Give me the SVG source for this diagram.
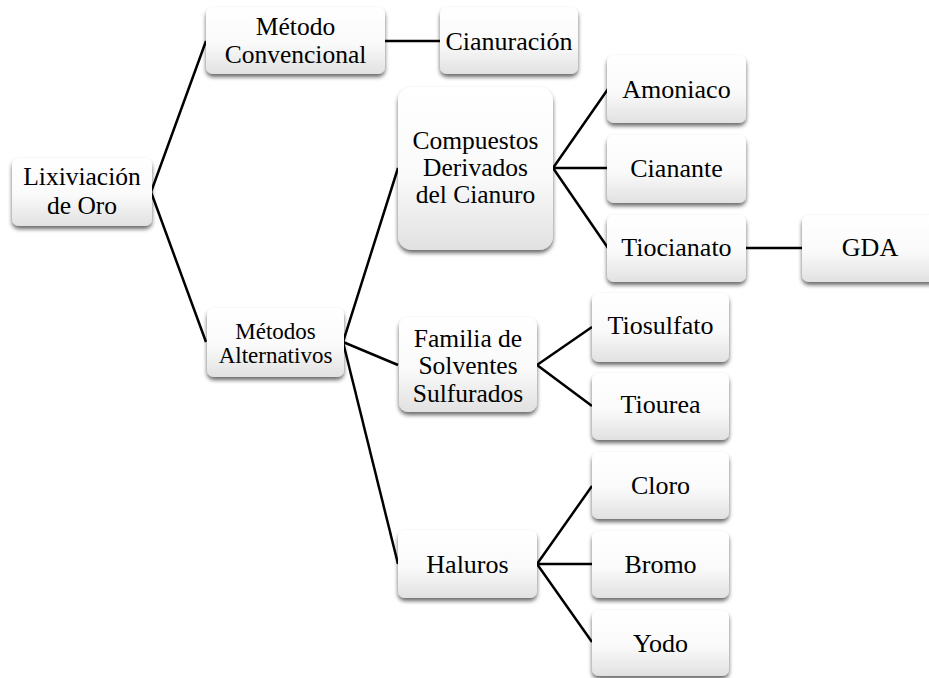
<svg xmlns="http://www.w3.org/2000/svg" width="929" height="678" viewBox="0 0 929 678">
  <style>
    .box { fill: url(#boxFill); filter: url(#shadow); }
    .lbl { font-family: "Liberation Serif", "DejaVu Serif", "Noto Serif", serif; font-size: 25.5px; fill: #000; text-anchor: middle; }
    .one { font-size: 26px; }
    .sm { font-size: 23px; }
    .link { stroke: #000; stroke-width: 2.5; fill: none; stroke-linejoin: miter; }
  </style>
  <defs>
    <linearGradient id="boxFill" x1="0" y1="0" x2="0" y2="1">
      <stop offset="0" stop-color="#ffffff"/>
      <stop offset="0.55" stop-color="#fafafa"/>
      <stop offset="1" stop-color="#e1e1e1"/>
    </linearGradient>
    <filter id="shadow" x="-10%" y="-10%" width="120%" height="130%">
      <feGaussianBlur in="SourceAlpha" stdDeviation="2"/>
      <feOffset dx="0" dy="3" result="b"/>
      <feComponentTransfer><feFuncA type="linear" slope="0.6"/></feComponentTransfer>
      <feMerge><feMergeNode/><feMergeNode in="SourceGraphic"/></feMerge>
    </filter>
  </defs>

  <rect width="929" height="678" fill="#ffffff"/>

  <!-- connectors -->
  <g id="connectors">
    <polyline class="link" points="206,41 151,192 206,342"/>
    <line class="link" x1="385" y1="41" x2="440" y2="41"/>
    <polyline class="link" points="398,168 343,342 398,365"/>
    <line class="link" x1="343" y1="342" x2="398" y2="564"/>
    <polyline class="link" points="608,89 553,168 608,248"/>
    <line class="link" x1="553" y1="168" x2="608" y2="168"/>
    <line class="link" x1="745" y1="248" x2="802" y2="248"/>
    <polyline class="link" points="592,327 537,365 592,406"/>
    <polyline class="link" points="592,486 537,564 592,642"/>
    <line class="link" x1="537" y1="564" x2="592" y2="564"/>
  </g>

  <g id="lixiviacion">
    <rect class="box" x="12" y="158" width="140" height="68" rx="7"/>
    <text class="lbl" x="82" y="185">Lixiviación</text>
    <text class="lbl" x="82" y="214">de Oro</text>
  </g>

  <g id="metodo-convencional">
    <rect class="box" x="206" y="7" width="179" height="67" rx="7"/>
    <text class="lbl" x="295.5" y="35">Método</text>
    <text class="lbl" x="295.5" y="63">Convencional</text>
  </g>

  <g id="cianuracion">
    <rect class="box" x="440" y="7" width="138" height="67" rx="7"/>
    <text class="lbl one" x="509" y="50">Cianuración</text>
  </g>

  <g id="metodos-alternativos">
    <rect class="box" x="207" y="308" width="137" height="69" rx="7"/>
    <text class="lbl sm" x="275.5" y="339">Métodos</text>
    <text class="lbl sm" x="275.5" y="363">Alternativos</text>
  </g>

  <g id="compuestos">
    <rect class="box" x="398" y="87" width="155" height="163" rx="14"/>
    <text class="lbl" x="475.5" y="149">Compuestos</text>
    <text class="lbl" x="475.5" y="176">Derivados</text>
    <text class="lbl" x="475.5" y="203">del Cianuro</text>
  </g>

  <g id="amoniaco">
    <rect class="box" x="607" y="55" width="139" height="68" rx="7"/>
    <text class="lbl one" x="676.5" y="98">Amoniaco</text>
  </g>

  <g id="cianante">
    <rect class="box" x="607" y="135" width="139" height="68" rx="7"/>
    <text class="lbl one" x="676.5" y="177">Cianante</text>
  </g>

  <g id="tiocianato">
    <rect class="box" x="607" y="215" width="139" height="67" rx="7"/>
    <text class="lbl one" x="676.5" y="256">Tiocianato</text>
  </g>

  <g id="gda">
    <rect class="box" x="802" y="215" width="137" height="67" rx="7"/>
    <text class="lbl one" x="870" y="256">GDA</text>
  </g>

  <g id="familia">
    <rect class="box" x="399" y="317" width="138" height="95" rx="9"/>
    <text class="lbl" x="468" y="347">Familia de</text>
    <text class="lbl" x="468" y="374">Solventes</text>
    <text class="lbl" x="468" y="402">Sulfurados</text>
  </g>

  <g id="tiosulfato">
    <rect class="box" x="592" y="293" width="137" height="69" rx="7"/>
    <text class="lbl one" x="660.5" y="334">Tiosulfato</text>
  </g>

  <g id="tiourea">
    <rect class="box" x="592" y="373" width="137" height="67" rx="7"/>
    <text class="lbl one" x="660.5" y="413">Tiourea</text>
  </g>

  <g id="haluros">
    <rect class="box" x="398" y="530" width="139" height="68" rx="7"/>
    <text class="lbl one" x="467.5" y="573">Haluros</text>
  </g>

  <g id="cloro">
    <rect class="box" x="592" y="452" width="137" height="67" rx="7"/>
    <text class="lbl one" x="660.5" y="494">Cloro</text>
  </g>

  <g id="bromo">
    <rect class="box" x="592" y="531" width="137" height="67" rx="7"/>
    <text class="lbl one" x="660.5" y="573">Bromo</text>
  </g>

  <g id="yodo">
    <rect class="box" x="592" y="610" width="137" height="66" rx="7"/>
    <text class="lbl one" x="660.5" y="652">Yodo</text>
  </g>
</svg>
